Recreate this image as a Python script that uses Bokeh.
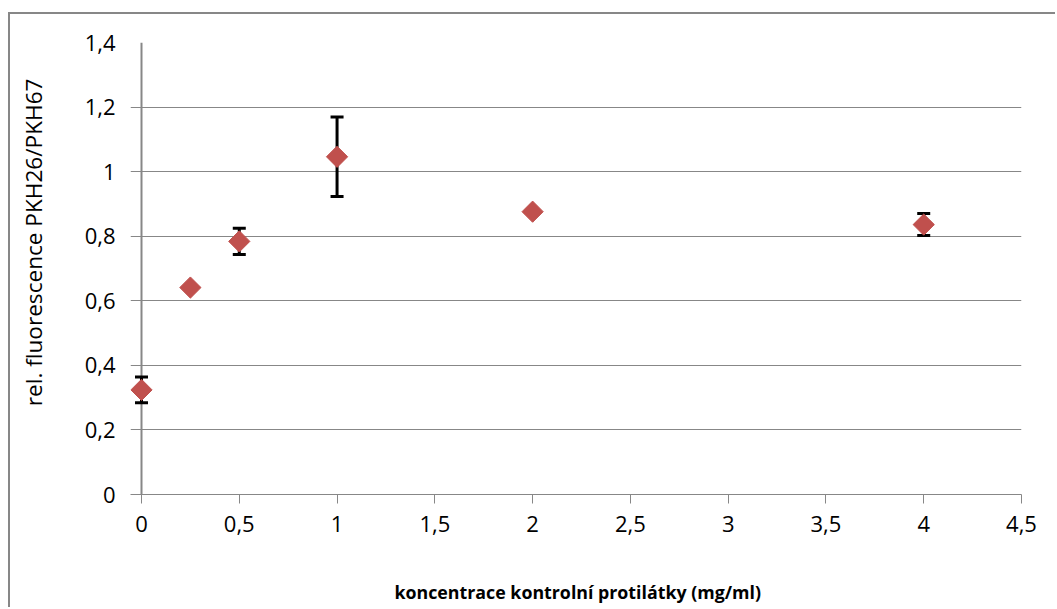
from bokeh.plotting import figure
from bokeh.models import (ColumnDataSource, Whisker, TeeHead, FixedTicker,
                          CustomJSTickFormatter, Range1d, Span, Title)
from bokeh.embed import file_html
from bokeh.resources import INLINE
import math

# antibody concentration (mg/ml) vs relative fluorescence PKH26/PKH67
conc = [0, 0.25, 0.5, 1, 2, 4]
ratio = [0.324, 0.641, 0.784, 1.046, 0.876, 0.836]
err = [0.040, 0.0, 0.041, 0.123, 0.0, 0.034]

x_ticks = [0, 0.5, 1, 1.5, 2, 2.5, 3, 3.5, 4, 4.5]
y_ticks = [0, 0.2, 0.4, 0.6, 0.8, 1.0, 1.2, 1.4]

x_title = "koncentrace kontrolní protilátky (mg/ml)"
y_title = "rel. fluorescence PKH26/PKH67"

GRID = "#878787"
RED = "#C0504D"
FONT = "Open Sans"

# the x range starts a little left of zero so that the marker at x = 0
# and the gridline stubs left of the vertical axis are not clipped
p = figure(width=1047, height=595, output_backend="svg", toolbar_location=None,
           x_range=Range1d(-0.05625, 4.5), y_range=Range1d(0, 1.4),
           min_border_left=120, min_border_right=36,
           min_border_top=28, min_border_bottom=115,
           margin=(12, 0, 0, 8))
p.styles = {"border-left": f"2px solid {GRID}", "border-top": f"2px solid {GRID}"}
p.outline_line_color = None
p.background_fill_color = "white"
p.border_fill_color = "white"

fmt = CustomJSTickFormatter(code="return tick.toString().replace('.', ',');")

# x axis
xa = p.xaxis[0]
xa.ticker = FixedTicker(ticks=x_ticks)
xa.formatter = fmt
xa.axis_line_color = GRID
xa.axis_line_width = 1
xa.major_tick_line_color = GRID
xa.major_tick_in = 0
xa.major_tick_out = 9
xa.minor_tick_line_color = None
xa.major_label_text_font = FONT
xa.major_label_text_font_size = "22px"
xa.major_label_text_color = "black"
xa.major_label_standoff = 12

# y axis: labels only, the gridlines act as its ticks
ya = p.yaxis[0]
ya.ticker = FixedTicker(ticks=y_ticks)
ya.formatter = fmt
ya.axis_line_color = None
ya.major_tick_line_color = None
ya.major_tick_in = 0
ya.major_tick_out = 0
ya.minor_tick_line_color = None
ya.major_label_text_font = FONT
ya.major_label_text_font_size = "22px"
ya.major_label_text_color = "black"
ya.major_label_standoff = 15

p.xgrid.grid_line_color = None
p.ygrid.ticker = FixedTicker(ticks=y_ticks)
p.ygrid.grid_line_color = GRID
p.ygrid.grid_line_width = 1

# axis titles, set in the side panels (an empty spacer keeps each
# title at its distance from the tick labels)
p.add_layout(Title(text=" ", text_font_size="1px", standoff=42), "below")
p.add_layout(Title(text=x_title, text_font=FONT, text_font_size="17.8px",
                   text_font_style="bold", text_color="black",
                   align="left", offset=264, vertical_align="top",
                   standoff=0), "below")
p.add_layout(Title(text=" ", text_font_size="1px", standoff=30), "left")
p.add_layout(Title(text=y_title, text_font=FONT, text_font_size="22.6px",
                   text_font_style="normal", text_color="black",
                   align="right", offset=36, vertical_align="bottom",
                   standoff=0), "left")

# vertical axis line at x = 0
p.add_layout(Span(location=0, dimension="height", line_color=GRID,
                  line_width=2, level="underlay"))

# error bars (only where a spread was measured)
eb = [(c, r, e) for c, r, e in zip(conc, ratio, err) if e > 0]
err_src = ColumnDataSource(dict(
    x=[t[0] for t in eb],
    upper=[t[1] + t[2] for t in eb],
    lower=[t[1] - t[2] for t in eb],
))
whisk = Whisker(base="x", upper="upper", lower="lower", source=err_src,
                dimension="height", line_color="black", line_width=3,
                upper_head=TeeHead(size=13, line_width=3, line_color="black"),
                lower_head=TeeHead(size=13, line_width=3, line_color="black"),
                level="underlay")
p.add_layout(whisk)

src = ColumnDataSource(dict(x=conc, y=ratio))
p.scatter("x", "y", source=src, marker="square", size=15, angle=math.pi / 4,
          fill_color=RED, line_color=RED, line_width=1)

open("out.html", "w").write(file_html(p, INLINE))
